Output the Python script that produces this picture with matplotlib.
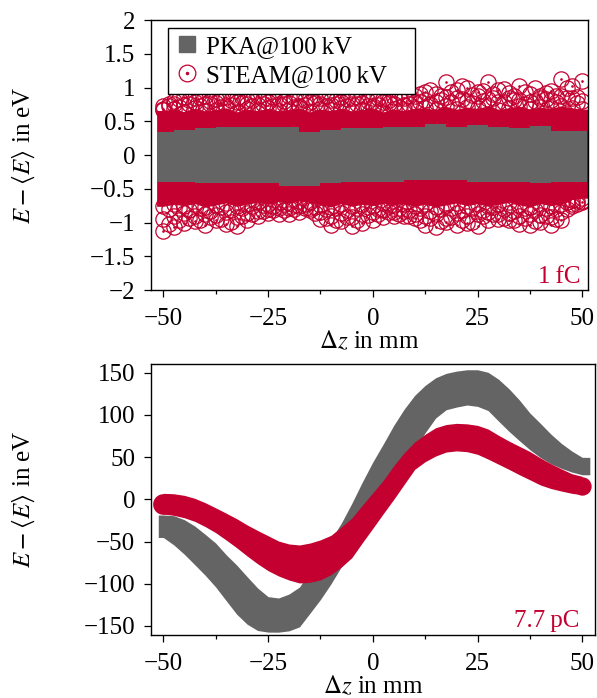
import numpy as np
import matplotlib.pyplot as plt
from matplotlib.lines import Line2D
from matplotlib.legend_handler import HandlerTuple
from matplotlib.ticker import FuncFormatter

plt.rcParams['font.family'] = ['Liberation Serif', 'DejaVu Serif']
plt.rcParams['mathtext.fontset'] = 'stix'
plt.rcParams['font.size'] = 18
plt.rcParams['axes.unicode_minus'] = True

RED = '#c3002f'
GRAY = '#646464'

# ---------------------------------
# Top panel (1 fC)
# ---------------------------------
z_top = [-50, -45, -40, -35, -30, -25, -20, -15, -10, -5, 0,
         5, 10, 15, 20, 25, 30, 35, 40, 45, 50]
pka_top_hi = [0.345, 0.37, 0.395, 0.42, 0.42, 0.42, 0.42, 0.345, 0.37, 0.395, 0.395,
              0.42, 0.42, 0.46, 0.42, 0.444, 0.42, 0.395, 0.43, 0.36, 0.36]
pka_top_lo = [-0.395, -0.40, -0.41, -0.41, -0.42, -0.42, -0.456, -0.456, -0.41, -0.405, -0.405,
              -0.395, -0.37, -0.37, -0.37, -0.395, -0.395, -0.395, -0.42, -0.395, -0.395]

# STEAM circles: rings of points above and below the dense core
z_ring = [-50, -47.5, -45, -42.5, -40, -37.5, -35, -32.5, -30, -27.5, -25,
          -22.5, -20, -17.5, -15, -12.5, -10, -7.5, -5, -2.5, 0,
          2.5, 5, 7.5, 10, 12.5, 15, 17.5, 20, 22.5, 25,
          27.5, 30, 32.5, 35, 37.5, 40, 42.5, 45, 47.5, 50]
z_half = [-48.75, -46.25, -43.75, -41.25, -38.75, -36.25, -33.75, -31.25, -28.75, -26.25,
          -23.75, -21.25, -18.75, -16.25, -13.75, -11.25, -8.75, -6.25, -3.75, -1.25,
          1.25, 3.75, 6.25, 8.75, 11.25, 13.75, 16.25, 18.75, 21.25, 23.75,
          26.25, 28.75, 31.25, 33.75, 36.25, 38.75, 41.25, 43.75, 46.25, 48.75]

steam_a_hi = [0.66, 0.68, 0.64, 0.69, 0.65, 0.67, 0.70, 0.64, 0.68, 0.66, 0.69,
              0.65, 0.67, 0.70, 0.64, 0.68, 0.66, 0.69, 0.65, 0.67, 0.70,
              0.64, 0.68, 0.66, 0.69, 0.70, 0.67, 0.72, 0.68, 0.71, 0.69,
              0.73, 0.67, 0.70, 0.72, 0.68, 0.71, 0.69, 0.73, 0.70, 0.68]
steam_b_hi = [0.73, 0.71, 0.75, 0.72, 0.76, 0.71, 0.74, 0.77, 0.72, 0.75,
              0.73, 0.76, 0.71, 0.74, 0.77, 0.72, 0.75, 0.73, 0.76, 0.72,
              0.74, 0.77, 0.71, 0.75, 0.79, 0.76, 0.81, 0.78, 0.83, 0.77,
              0.80, 0.84, 0.78, 0.82, 0.76, 0.80, 0.83, 0.79, 0.84, 0.77]
steam_d_hi = [0.72, 0.76, 0.74, 0.78, 0.75, 0.77, 0.73, 0.79, 0.76, 0.74, 0.78,
              0.75, 0.77, 0.73, 0.78, 0.76, 0.74, 0.79, 0.75, 0.77, 0.73,
              0.78, 0.76, 0.74, 0.79, 0.82, 0.78, 0.86, 0.84, 0.80, 0.87,
              0.83, 0.79, 0.85, 0.81, 0.78, 0.84, 0.82, 0.88, 0.85, 0.80]
steam_e_hi = [0.76, 0.83, 0.81, 0.86, 0.80, 0.84, 0.82, 0.86, 0.81, 0.83,
              0.86, 0.80, 0.85, 0.82, 0.84, 0.87, 0.81, 0.83, 0.86, 0.80,
              0.84, 0.82, 0.85, 0.87, 0.90, 0.97, 0.88, 0.93, 1.02, 0.89,
              0.95, 0.91, 0.98, 0.87, 0.93, 0.99, 0.92, 0.88, 1.00, 0.86]
steam_c_hi = [0.68, 0.80, 0.86, 0.84, 0.87, 0.83, 0.86, 0.85, 0.82, 0.87, 0.85,
              0.84, 0.87, 0.83, 0.86, 0.85, 0.82, 0.86, 0.84, 0.87, 0.85,
              0.83, 0.86, 0.84, 0.88, 0.93, 0.91, 1.08, 0.96, 1.00, 0.94,
              1.08, 0.97, 0.92, 1.03, 0.90, 0.87, 0.95, 1.13, 1.02, 1.10]

steam_a_lo = [-0.76, -0.73, -0.75, -0.72, -0.77, -0.74, -0.71, -0.76, -0.73, -0.70, -0.72,
              -0.69, -0.71, -0.68, -0.70, -0.74, -0.77, -0.72, -0.76, -0.73, -0.75,
              -0.71, -0.74, -0.72, -0.76, -0.73, -0.77, -0.74, -0.71, -0.75, -0.72,
              -0.76, -0.73, -0.70, -0.74, -0.77, -0.72, -0.75, -0.73, -0.66, -0.64]
steam_b_lo = [-0.80, -0.78, -0.82, -0.79, -0.83, -0.77, -0.81, -0.78, -0.76, -0.74,
              -0.75, -0.73, -0.74, -0.72, -0.77, -0.80, -0.78, -0.82, -0.79, -0.77,
              -0.80, -0.76, -0.78, -0.81, -0.79, -0.83, -0.80, -0.78, -0.82, -0.79,
              -0.81, -0.77, -0.80, -0.83, -0.79, -0.81, -0.78, -0.80, -0.70, -0.68]
steam_d_lo = [-0.95, -0.90, -0.86, -0.91, -0.87, -0.89, -0.84, -0.92, -0.86, -0.83, -0.80,
              -0.79, -0.78, -0.76, -0.79, -0.85, -0.90, -0.86, -0.92, -0.88, -0.85,
              -0.82, -0.84, -0.83, -0.87, -0.91, -0.88, -0.93, -0.86, -0.90, -0.87,
              -0.85, -0.88, -0.86, -0.91, -0.87, -0.89, -0.92, -0.85, -0.72, -0.68]
steam_e_lo = [-1.02, -0.96, -0.93, -0.97, -0.92, -0.95, -0.99, -0.91, -0.87, -0.83,
              -0.81, -0.82, -0.80, -0.78, -0.86, -0.93, -0.97, -0.92, -0.96, -0.89,
              -0.87, -0.85, -0.88, -0.90, -0.97, -0.94, -0.98, -0.92, -0.96, -0.99,
              -0.90, -0.88, -0.93, -0.97, -0.94, -0.98, -0.91, -0.95, -0.80, -0.73]
steam_c_lo = [-1.13, -1.06, -1.01, -0.98, -1.04, -0.97, -1.02, -1.05, -0.96, -0.90, -0.86,
              -0.88, -0.87, -0.84, -0.82, -0.95, -1.03, -0.98, -1.05, -1.01, -0.97,
              -0.92, -0.90, -0.91, -0.94, -1.03, -1.06, -0.99, -1.04, -1.01, -1.05,
              -0.96, -0.95, -0.97, -1.02, -1.04, -0.99, -1.03, -0.97, -0.76, -0.70]

# ---------------------------------
# Bottom panel (7.7 pC): band edges
# ---------------------------------
z_bot = z_ring
pka_bot_hi = [-18.6, -19.4, -24.1, -31.6, -41.5, -51.8, -65.6, -77.8, -91.6, -105, -115.3,
              -116.9, -112.2, -103.9, -85.3, -66.8, -47.8, -28.1, -4.7, 20.5, 44.2,
              65.5, 87.6, 106.9, 123.2, 135, 144, 149.2, 151.9, 153.5, 153.5,
              150.5, 142.3, 131, 117.6, 102.2, 90, 77.3, 66.3, 57.2, 49.7]
pka_bot_lo = [-45.2, -54, -65, -77.4, -90, -103.9, -120, -136, -147.9, -155.4, -157.3,
              -157.4, -155.8, -151.1, -135, -118.7, -100.3, -79.8, -60.8, -40.5, -20.8,
              -1.1, 19.3, 39, 59.2, 78.9, 96.3, 106.1, 109.3, 111.7, 110.1,
              105.2, 92.7, 80.5, 69.4, 58.7, 49.5, 42.2, 36.7, 32.3, 29.1]
steam_bot_hi = [7.1, 6.6, 4.7, 1.2, -4, -10.1, -16.4, -22.9, -30.3, -36.9, -43.1,
                -49.4, -52.9, -54.1, -51.8, -48, -42.7, -32.8, -22.1, -7, 7.7,
                22.5, 39.8, 55.2, 67.9, 77.1, 84.8, 88.6, 90, 89.4, 87.6,
                83.3, 75.9, 69, 62.8, 56.6, 49, 42.2, 36.1, 30.3, 27.2]
steam_bot_lo = [-17.4, -19, -21.8, -26.1, -32.3, -39.5, -48.2, -57.3, -67.1, -76.3, -84.5,
                -90.8, -95.6, -99.1, -98.3, -95.4, -89.3, -80.2, -69.1, -51.4, -34.4,
                -17, 0, 17.8, 35.5, 44.6, 51.3, 56, 57.4, 56.4, 53.3,
                47.7, 41.6, 35.5, 29.1, 23.1, 17, 12.8, 9.8, 7.1, 5.5]

xticks = [-50, -25, 0, 25, 50]
xticks_minor = [-37.5, -12.5, 12.5, 37.5]
yticks_top = [-2, -1.5, -1, -0.5, 0, 0.5, 1, 1.5, 2]
yticks_bot = [-150, -100, -50, 0, 50, 100, 150]

fmt = FuncFormatter(lambda v, p: ('%g' % v).replace('-', '\u2212'))

fig = plt.figure(figsize=(5.97, 6.98), dpi=100)
ax1 = fig.add_axes([0.2529, 0.5845, 0.7320, 0.3868])
ax2 = fig.add_axes([0.2529, 0.0903, 0.7437, 0.3882])


def style(ax, label_x):
    ax.set_xticks(xticks)
    ax.set_xticks(xticks_minor, minor=True)
    ax.tick_params(which='both', direction='out', top=False, right=False, width=0.9)
    ax.tick_params(which='major', length=5)
    ax.tick_params(which='minor', length=3)
    ax.tick_params(axis='x', which='major', pad=8)
    ax.tick_params(axis='y', which='major', pad=6.5)
    ax.xaxis.set_major_formatter(fmt)
    ax.yaxis.set_major_formatter(fmt)
    for s in ax.spines.values():
        s.set_linewidth(1.0)
    ax.set_xlabel(r'$\Delta z$ in mm', labelpad=0)
    ax.set_ylabel(r'$E - \langle E\rangle$ in eV')
    ax.yaxis.set_label_coords(label_x, 0.5)


# ---- top ----
ax1.set_xlim(-52.94, 51.36)
ax1.set_ylim(-2, 2)
ax1.set_yticks(yticks_top)
style(ax1, -0.26)

r = 1.6  # circle radius in mm, lets the core reach the outer circle edges
zr = np.array(z_ring)
ax1.fill_between(np.r_[zr[0] - r, zr, zr[-1] + r],
                 np.r_[steam_a_lo[0], steam_a_lo, steam_a_lo[-1]],
                 np.r_[steam_a_hi[0], steam_a_hi, steam_a_hi[-1]],
                 color=RED, lw=0, zorder=1)
rings = [(z_ring, steam_a_hi), (z_half, steam_b_hi), (z_ring, steam_d_hi),
         (z_half, steam_e_hi), (z_ring, steam_c_hi),
         (z_ring, steam_a_lo), (z_half, steam_b_lo), (z_ring, steam_d_lo),
         (z_half, steam_e_lo), (z_ring, steam_c_lo)]
for zz, ee in rings:
    ax1.plot(zz, ee, ls='none', marker='o', ms=11, mfc='none',
             mec=RED, mew=0.9, zorder=2)
for ee in [steam_c_hi, steam_c_lo]:
    ax1.plot(z_ring, ee, ls='none', marker='o', ms=0.9, color=RED, zorder=2)

zt = np.array(z_top)
ax1.fill_between(np.r_[zt[0] - 1.4, zt, zt[-1] + 1.2],
                 np.r_[pka_top_lo[0], pka_top_lo, pka_top_lo[-1]],
                 np.r_[pka_top_hi[0], pka_top_hi, pka_top_hi[-1]],
                 step='mid', color=GRAY, lw=0, zorder=3)

ax1.text(0.982, 0.026, '1\u2009fC', transform=ax1.transAxes, ha='right',
         va='baseline', color=RED)

h_pka = Line2D([], [], ls='none', marker='s', ms=12, color=GRAY)
h_circ = Line2D([], [], ls='none', marker='o', ms=12, mfc='none', mec=RED, mew=0.9)
h_dot = Line2D([], [], ls='none', marker='o', ms=1.5, color=RED)
leg = ax1.legend([h_pka, (h_circ, h_dot)],
                 ['PKA@100\u2009kV', 'STEAM@100\u2009kV'],
                 handler_map={tuple: HandlerTuple(ndivide=1)},
                 loc='upper left', bbox_to_anchor=(0.039, 0.0, 0.565, 0.97),
                 mode='expand', borderaxespad=0,
                 fancybox=False, framealpha=1, edgecolor='black',
                 handlelength=0.9, handletextpad=0.3, borderpad=0.3,
                 labelspacing=0.25)
leg.get_frame().set_linewidth(1.0)
leg.set_zorder(10)

# ---- bottom ----
ax2.set_xlim(-52.94, 53.03)
ax2.set_ylim(-160.7, 160.3)
ax2.set_yticks(yticks_bot)
style(ax2, -0.256)

zb = np.array(z_bot)
ax2.fill_between(np.r_[zb[0] - 1.2, zb, zb[-1] + 1.8],
                 np.r_[pka_bot_lo[0], pka_bot_lo, pka_bot_lo[-1]],
                 np.r_[pka_bot_hi[0], pka_bot_hi, pka_bot_hi[-1]],
                 color=GRAY, lw=0, zorder=1)
ax2.fill_between(z_bot, steam_bot_lo, steam_bot_hi, color=RED, lw=0, zorder=2)

# rounded ends of the STEAM band
px_per_ev = ax2.bbox.height / (160.3 + 160.7)
for i in [0, -1]:
    thick = steam_bot_hi[i] - steam_bot_lo[i]
    ax2.plot(z_bot[i], (steam_bot_hi[i] + steam_bot_lo[i]) / 2, marker='o',
             ms=thick * px_per_ev * 72 / fig.dpi, color=RED, mew=0, zorder=2)

ax2.text(0.966, 0.03, '7.7\u2009pC', transform=ax2.transAxes, ha='right',
         va='baseline', color=RED)

fig.savefig('out.png', dpi=100)
